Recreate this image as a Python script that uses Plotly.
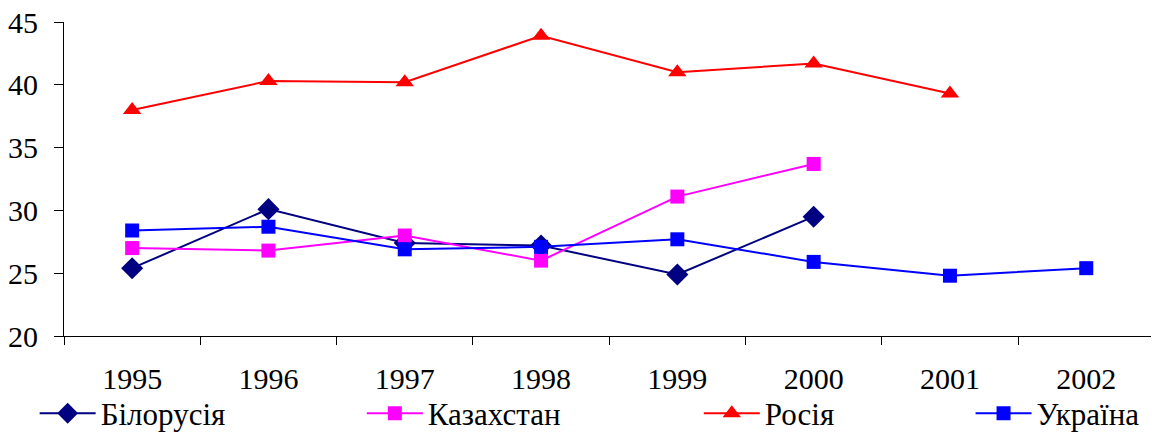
import plotly.graph_objects as go

years = ["1995", "1996", "1997", "1998", "1999", "2000", "2001", "2002"]
belarus = [25.4, 30.1, 27.4, 27.2, 24.9, 29.5, None, None]
kazakhstan = [27.0, 26.8, 28.0, 26.0, 31.1, 33.7, None, None]
russia = [38.0, 40.3, 40.2, 43.9, 41.0, 41.7, 39.3, None]
ukraine = [28.4, 28.7, 26.9, 27.1, 27.7, 25.9, 24.8, 25.4]

names = ["Білорусія", "Казахстан", "Росія", "Україна"]
colors = ["#000080", "#FF00FF", "#FF0000", "#0000FF"]
symbols = ["diamond", "square", "triangle-up", "square"]
series = [belarus, kazakhstan, russia, ukraine]
legend_ids = ["legend", "legend2", "legend3", "legend4"]
legend_x = [-0.027, 0.274, 0.584, 0.834]
msize = {"diamond": 17, "square": 14, "triangle-up": 16}

fig = go.Figure()
for n, c, s, v, lid in zip(names, colors, symbols, series, legend_ids):
    fig.add_trace(go.Scatter(
        x=years, y=v, name=n, mode="lines+markers",
        line=dict(color=c, width=2),
        marker=dict(symbol=s, color=c, size=msize[s]),
        legend=lid,
    ))

FAM = "Liberation Serif"
font = dict(family=FAM, size=30, color="black")
leg_common = dict(orientation="h", yref="container", yanchor="middle", y=0.047,
                  xanchor="left",
                  font=dict(family=FAM, size=31, color="black"),
                  bgcolor="rgba(0,0,0,0)", itemwidth=56)
layout_legends = {}
for lid, lx in zip(legend_ids, legend_x):
    d = dict(leg_common)
    d["x"] = lx
    layout_legends[lid] = d

fig.update_layout(
    width=1152, height=434,
    margin=dict(l=64, r=1, t=22, b=98),
    paper_bgcolor="white", plot_bgcolor="white",
    font=font,
    showlegend=True,
    xaxis=dict(type="category", tickson="boundaries", ticks="outside", ticklen=8,
               tickcolor="black", showline=True, linecolor="black", linewidth=1,
               showgrid=False, range=[-0.5, 7.475], ticklabelstandoff=16,
               tickfont=font, automargin=False),
    yaxis=dict(range=[20, 45], dtick=5, ticks="outside", ticklen=9, tickcolor="black",
               showline=True, linecolor="black", linewidth=1, showgrid=False,
               zeroline=False, tickfont=font, ticklabelstandoff=10, automargin=False),
    **layout_legends,
)

fig.write_html("out.html", config={"displayModeBar": False},
               post_script="document.body.style.margin='0';document.body.style.overflow='hidden';")
